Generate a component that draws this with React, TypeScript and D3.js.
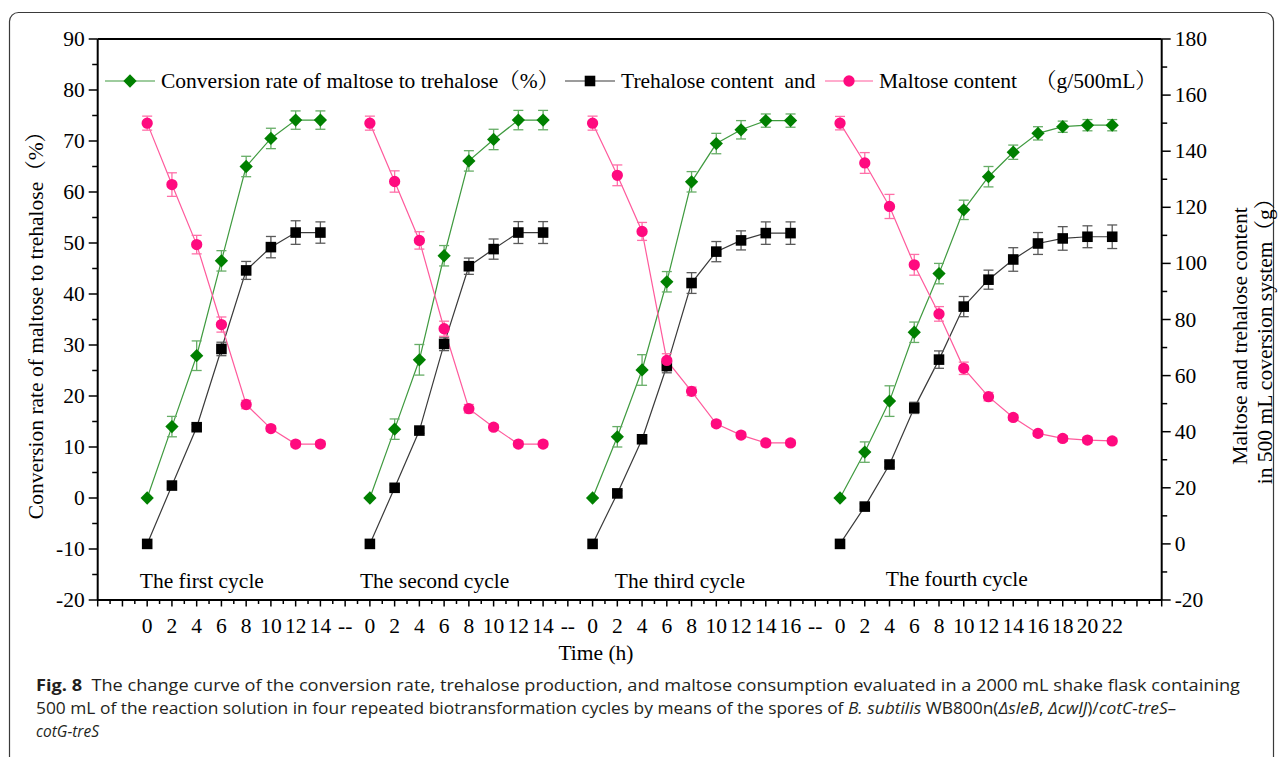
import React from "react";
import * as d3 from "d3";

// Sampling hours of each biotransformation cycle
const cycleHours: number[][] = [
  [0, 2, 4, 6, 8, 10, 12, 14],
  [0, 2, 4, 6, 8, 10, 12, 14],
  [0, 2, 4, 6, 8, 10, 12, 14, 16],
  [0, 2, 4, 6, 8, 10, 12, 14, 16, 18, 20, 22],
];
const cycleNames = ["The first cycle", "The second cycle", "The third cycle", "The fourth cycle"];
const cycleGap = "--";

// Conversion rate of maltose to trehalose (%), left axis
const conversion: number[][] = [
  [0, 14.0, 27.9, 46.5, 65.0, 70.5, 74.1, 74.1],
  [0, 13.5, 27.1, 47.5, 66.1, 70.3, 74.1, 74.1],
  [0, 12.0, 25.1, 42.4, 62.0, 69.5, 72.2, 74.0, 74.0],
  [0, 9.0, 19.0, 32.5, 44.0, 56.5, 63.0, 67.8, 71.5, 72.8, 73.1, 73.1],
];
const conversionSd: number[][] = [
  [0, 2.0, 2.9, 2.0, 2.0, 2.0, 1.8, 1.8],
  [0, 2.0, 3.0, 2.0, 2.0, 2.0, 1.9, 1.9],
  [0, 2.0, 3.0, 2.0, 2.0, 2.0, 1.8, 1.3, 1.3],
  [0, 2.0, 3.0, 2.0, 2.0, 1.9, 2.0, 1.4, 1.3, 1.1, 1.1, 1.1],
];

// Trehalose content (g/500 mL), right axis
const trehalose: number[][] = [
  [0, 20.8, 41.6, 69.5, 97.5, 105.8, 111.0, 111.0],
  [0, 20.0, 40.4, 71.3, 99.0, 105.1, 111.0, 111.0],
  [0, 18.0, 37.3, 63.4, 93.0, 104.2, 108.2, 110.8, 110.8],
  [0, 13.3, 28.3, 48.5, 65.7, 84.6, 94.2, 101.4, 107.1, 108.9, 109.5, 109.5],
];
const trehaloseSd: number[][] = [
  [0, 1.0, 1.0, 2.4, 3.2, 3.8, 4.2, 3.8],
  [0, 1.0, 1.0, 2.4, 2.9, 3.6, 3.9, 3.9],
  [0, 1.0, 1.0, 2.4, 3.7, 3.6, 3.4, 4.0, 4.0],
  [0, 1.0, 1.0, 2.0, 3.1, 3.6, 3.4, 4.2, 3.9, 4.2, 3.9, 4.2],
];

// Maltose content (g/500 mL), right axis
const maltose: number[][] = [
  [150, 128.1, 106.7, 78.2, 49.7, 41.1, 35.6, 35.6],
  [150, 129.2, 108.2, 76.7, 48.2, 41.6, 35.6, 35.6],
  [150, 131.4, 111.4, 65.4, 54.4, 42.8, 38.8, 36.0, 36.0],
  [150, 135.8, 120.3, 99.5, 82.0, 62.6, 52.5, 45.1, 39.4, 37.6, 37.0, 36.7],
];
const maltoseSd: number[][] = [
  [2.5, 4.2, 3.3, 2.7, 1.5, 1.0, 1.0, 1.0],
  [2.5, 3.8, 3.1, 2.7, 1.5, 1.0, 1.0, 1.0],
  [2.5, 3.7, 3.2, 2.4, 1.5, 1.0, 1.0, 1.0, 1.0],
  [2.4, 3.7, 4.3, 3.7, 2.6, 2.2, 1.5, 1.0, 1.0, 1.0, 1.0, 1.0],
];

const leftTicks = [-20, -10, 0, 10, 20, 30, 40, 50, 60, 70, 80, 90];
const rightTicks = [-20, 0, 20, 40, 60, 80, 100, 120, 140, 160, 180];

const W = 1282;
const H = 757;
const serif = "'Liberation Serif', 'Times New Roman', 'Noto Serif CJK SC', 'Noto Sans CJK SC', serif";
const sans = "'Open Sans', 'Noto Sans', 'DejaVu Sans', sans-serif";

// slot index of each cycle's first hour on the shared time axis
const cycleStart: number[] = [];
cycleHours.reduce((acc, hrs) => {
  cycleStart.push(acc);
  return acc + hrs.length + 1;
}, 0);
const xTickLabels: string[] = cycleHours.flatMap((hrs, i) =>
  i < cycleHours.length - 1 ? [...hrs.map(String), cycleGap] : hrs.map(String)
);

type Pt = { x: number; v: number; sd: number };

function buildSeries(values: number[][], sds: number[][]): Pt[][] {
  return values.map((vals, c) =>
    vals.map((v, i) => ({ x: cycleStart[c] + cycleHours[c][i] / 2, v, sd: sds[c][i] }))
  );
}

export default function App() {
  const x = d3.scaleLinear().domain([-2, 41]).range([97.7, 1161.7]);
  const yL = d3.scaleLinear().domain([-20, 90]).range([600, 39]);
  const yR = d3.scaleLinear().domain([-20, 180]).range([600, 39]);
  const [x0, x1] = x.range();
  const [yBot, yTop] = yL.range();

  const series = [
    {
      key: "conv",
      data: buildSeries(conversion, conversionSd),
      y: yL,
      line: "#3f9a3f",
      err: "#66ad66",
      fill: "#008000",
      shape: "diamond",
    },
    {
      key: "treh",
      data: buildSeries(trehalose, trehaloseSd),
      y: yR,
      line: "#3a3a3a",
      err: "#5a5a5a",
      fill: "#000000",
      shape: "square",
    },
    {
      key: "malt",
      data: buildSeries(maltose, maltoseSd),
      y: yR,
      line: "#ff5a9c",
      err: "#ff6fa8",
      fill: "#ff0a7f",
      shape: "circle",
    },
  ];

  const symbolPath = (shape: string) => {
    if (shape === "diamond") return d3.symbol(d3.symbolSquare, 88)() as string;
    if (shape === "square") return d3.symbol(d3.symbolSquare, 112)() as string;
    return d3.symbol(d3.symbolCircle, 100)() as string;
  };
  const marker = (shape: string, fill: string, cx: number, cy: number, key: string) => (
    <path
      key={key}
      d={symbolPath(shape)}
      fill={fill}
      transform={`translate(${cx},${cy})${shape === "diamond" ? " rotate(45)" : ""}`}
    />
  );

  const xMajor = d3.range(-2, 42, 1);
  const xMinor = d3.range(-1.5, 41, 1);
  const leftMinor = d3.range(-15, 90, 10);
  const rightMinor = d3.range(-10, 180, 20);

  const cycleLabelPos = [
    { at: -0.3, y: 588 },
    { at: 8.6, y: 588 },
    { at: 18.9, y: 588 },
    { at: 29.85, y: 586 },
  ];

  const legendY = 81;
  const fs = 21.5;

  return (
    <svg
      width={W}
      height={H}
      viewBox={`0 0 ${W} ${H}`}
      style={{ position: "absolute", left: 0, top: 0, background: "#fff" }}
    >
      <rect x={9.5} y={12.5} width={1264} height={800} rx={9} fill="#fff" stroke="#3a3a3a" strokeWidth={1.2} />

      {/* lines */}
      {series.map((s) =>
        s.data.map((pts, c) => {
          const line = d3
            .line<Pt>()
            .x((d) => x(d.x))
            .y((d) => s.y(d.v));
          return (
            <path key={`${s.key}-l-${c}`} d={line(pts) as string} fill="none" stroke={s.line} strokeWidth={1.2} />
          );
        })
      )}

      {/* error bars */}
      {series.map((s) =>
        s.data.flatMap((pts, c) =>
          pts
            .filter((d) => d.sd > 0)
            .map((d, i) => {
              const cx = x(d.x);
              const ya = s.y(d.v + d.sd);
              const yb = s.y(d.v - d.sd);
              return (
                <g key={`${s.key}-e-${c}-${i}`} stroke={s.err} strokeWidth={1.3}>
                  <line x1={cx} x2={cx} y1={ya} y2={yb} />
                  <line x1={cx - 5} x2={cx + 5} y1={ya} y2={ya} />
                  <line x1={cx - 5} x2={cx + 5} y1={yb} y2={yb} />
                </g>
              );
            })
        )
      )}

      {/* markers */}
      {series.map((s) =>
        s.data.flatMap((pts, c) =>
          pts.map((d, i) => marker(s.shape, s.fill, x(d.x), s.y(d.v), `${s.key}-m-${c}-${i}`))
        )
      )}

      {/* frame */}
      <g stroke="#000" strokeWidth={2} fill="none">
        <line x1={x0} x2={x1} y1={yTop} y2={yTop} />
        <line x1={x0} x2={x1} y1={yBot} y2={yBot} />
        <line x1={x0} x2={x0} y1={yTop} y2={yBot} />
        <line x1={x1} x2={x1} y1={yTop} y2={yBot} />
      </g>

      {/* left axis */}
      <g stroke="#000" strokeWidth={1.5}>
        {leftTicks.map((t) => (
          <line key={`lt${t}`} x1={x0 - 9} x2={x0} y1={yL(t)} y2={yL(t)} />
        ))}
        {leftMinor.map((t) => (
          <line key={`lm${t}`} x1={x0 - 5.5} x2={x0} y1={yL(t)} y2={yL(t)} />
        ))}
      </g>
      <g fontFamily={serif} fontSize={fs} fill="#000" textAnchor="end">
        {leftTicks.map((t) => (
          <text key={`ll${t}`} x={x0 - 13} y={yL(t) + 7}>
            {t}
          </text>
        ))}
      </g>

      {/* right axis */}
      <g stroke="#000" strokeWidth={1.5}>
        {rightTicks.map((t) => (
          <line key={`rt${t}`} x1={x1} x2={x1 + 9} y1={yR(t)} y2={yR(t)} />
        ))}
        {rightMinor.map((t) => (
          <line key={`rm${t}`} x1={x1} x2={x1 + 5.5} y1={yR(t)} y2={yR(t)} />
        ))}
      </g>
      <g fontFamily={serif} fontSize={fs} fill="#000" textAnchor="start">
        {rightTicks.map((t) => (
          <text key={`rl${t}`} x={x1 + 13} y={yR(t) + 7}>
            {t}
          </text>
        ))}
      </g>

      {/* bottom axis */}
      <g stroke="#000" strokeWidth={1.5}>
        {xMajor.map((t) => (
          <line key={`xt${t}`} x1={x(t)} x2={x(t)} y1={yBot} y2={yBot + 6.5} />
        ))}
        {xMinor.map((t) => (
          <line key={`xm${t}`} x1={x(t)} x2={x(t)} y1={yBot} y2={yBot + 4} />
        ))}
      </g>
      <g fontFamily={serif} fontSize={fs} fill="#000" textAnchor="middle">
        {xTickLabels.map((lab, i) => (
          <text key={`xl${i}`} x={x(i)} y={633}>
            {lab}
          </text>
        ))}
      </g>

      {/* cycle labels */}
      <g fontFamily={serif} fontSize={fs} fill="#000">
        {cycleNames.map((n, i) => (
          <text key={n} x={x(cycleLabelPos[i].at)} y={cycleLabelPos[i].y}>
            {n}
          </text>
        ))}
      </g>

      {/* axis titles */}
      <text x={596} y={660} fontFamily={serif} fontSize={fs} textAnchor="middle">
        Time (h)
      </text>
      <text
        transform="translate(43,320) rotate(-90)"
        fontFamily={serif}
        fontSize={fs}
        textAnchor="middle"
      >
        Conversion rate of maltose to trehalose（%）
      </text>
      <text transform="translate(1247,336) rotate(-90)" fontFamily={serif} fontSize={fs} textAnchor="middle">
        Maltose and trehalose content
      </text>
      <text transform="translate(1272,336) rotate(-90)" fontFamily={serif} fontSize={fs} textAnchor="middle">
        in 500 mL coversion system（g）
      </text>

      {/* legend */}
      <g>
        <line x1={105} x2={155} y1={legendY} y2={legendY} stroke={series[0].line} strokeWidth={1.2} />
        {marker("diamond", series[0].fill, 130, legendY, "lg0")}
        <text x={161} y={legendY + 7} fontFamily={serif} fontSize={fs}>
          Conversion rate of maltose to trehalose（%）
        </text>
        <line x1={565} x2={615} y1={legendY} y2={legendY} stroke={series[1].line} strokeWidth={1.2} />
        {marker("square", series[1].fill, 590, legendY, "lg1")}
        <text x={621} y={legendY + 7} fontFamily={serif} fontSize={fs} style={{ whiteSpace: "pre" }}>
          {"Trehalose content  and"}
        </text>
        <line x1={825} x2={873} y1={legendY} y2={legendY} stroke={series[2].line} strokeWidth={1.2} />
        {marker("circle", series[2].fill, 849, legendY, "lg2")}
        <text x={879} y={legendY + 7} fontFamily={serif} fontSize={fs}>
          Maltose content
        </text>
        <text x={1035} y={legendY + 7} fontFamily={serif} fontSize={fs}>
          （g/500mL）
        </text>
      </g>

      {/* caption */}
      <g fontFamily={sans} fontSize={16.5} fill="#231f20">
        <text x={36} y={690.5} textLength={1204} lengthAdjust="spacingAndGlyphs" style={{ whiteSpace: "pre" }}>
          <tspan fontWeight="bold">Fig. 8</tspan>
          <tspan>{"  The change curve of the conversion rate, trehalose production, and maltose consumption evaluated in a 2000 mL shake flask containing"}</tspan>
        </text>
        <text x={36} y={713.5} textLength={1140} lengthAdjust="spacingAndGlyphs">
          <tspan>500 mL of the reaction solution in four repeated biotransformation cycles by means of the spores of </tspan>
          <tspan fontStyle="italic">B. subtilis</tspan>
          <tspan> WB800n(</tspan>
          <tspan fontStyle="italic">ΔsleB</tspan>
          <tspan>, </tspan>
          <tspan fontStyle="italic">ΔcwlJ</tspan>
          <tspan>)/</tspan>
          <tspan fontStyle="italic">cotC-treS–</tspan>
        </text>
        <text x={36} y={736.5} textLength={63} lengthAdjust="spacingAndGlyphs" fontStyle="italic">
          cotG-treS
        </text>
      </g>
    </svg>
  );
}
